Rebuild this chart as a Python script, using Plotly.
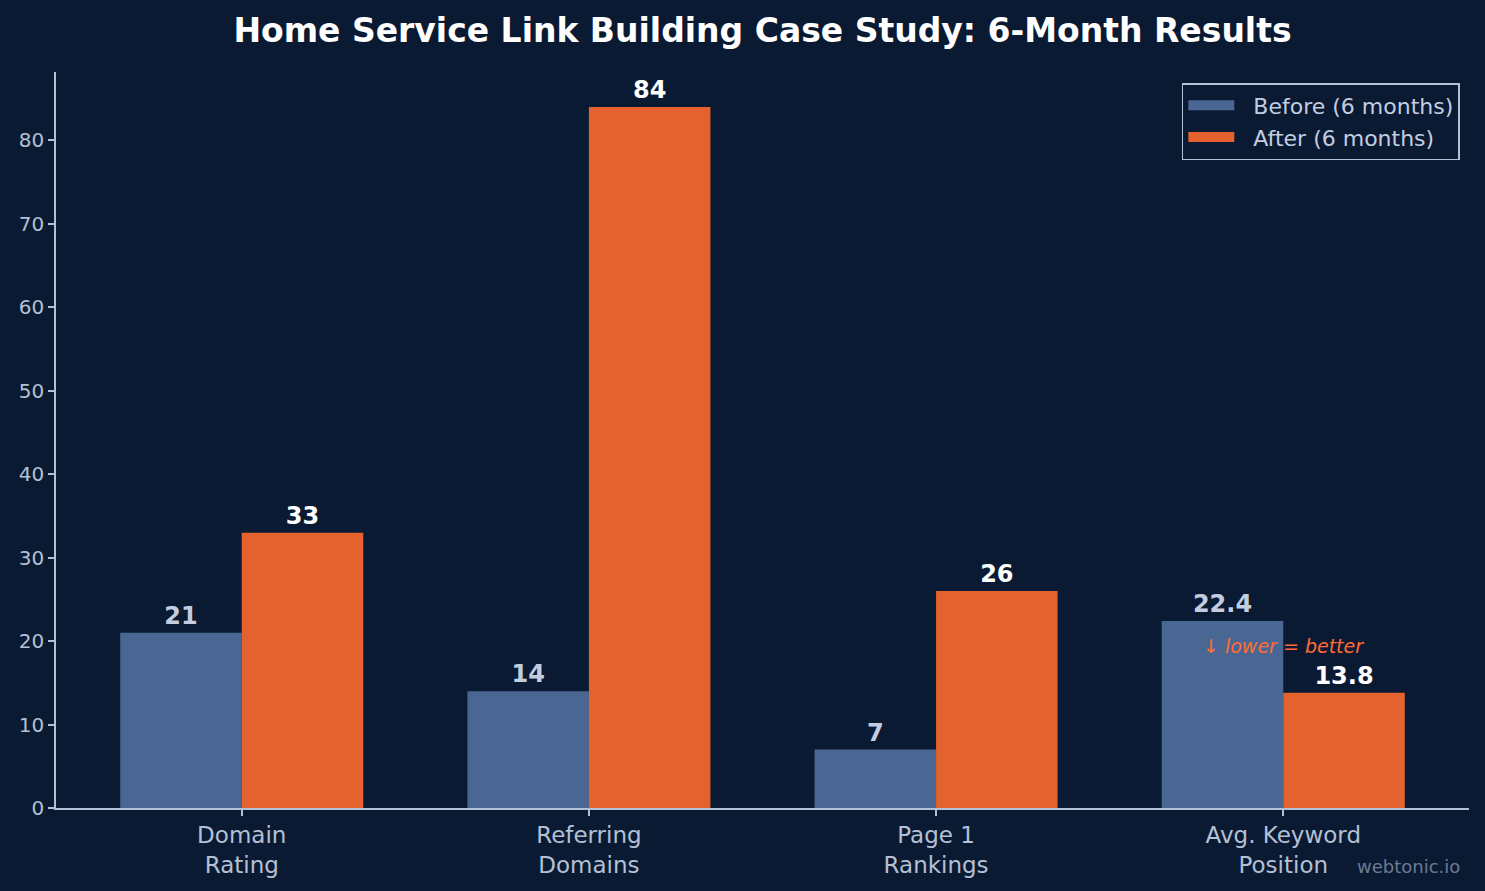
import plotly.graph_objects as go

categories = ["Domain<br>Rating", "Referring<br>Domains", "Page 1<br>Rankings", "Avg. Keyword<br>Position"]
before_vals = [21, 14, 7, 22.4]
after_vals = [33, 84, 26, 13.8]
before_labels = ["21", "14", "7", "22.4"]
after_labels = ["33", "84", "26", "13.8"]
y_ticks = [0, 10, 20, 30, 40, 50, 60, 70, 80]

BG = "#0b1a33"
AX = "#b4c0d3"
FONT = "DejaVu Sans"
C_BEFORE = "#4a6794"
C_AFTER = "#e4622d"

fig = go.Figure()
fig.add_trace(go.Bar(
    x=categories, y=before_vals, name="Before (6 months)", showlegend=False,
    marker=dict(color=C_BEFORE, line=dict(width=0)),
    text=before_labels, textposition="outside",
    textfont=dict(family=FONT, size=24, color="#c3cde0", weight="bold"),
    cliponaxis=False,
))
fig.add_trace(go.Bar(
    x=categories, y=after_vals, name="After (6 months)", showlegend=False,
    marker=dict(color=C_AFTER, line=dict(width=0)),
    text=after_labels, textposition="outside",
    textfont=dict(family=FONT, size=24, color="#ffffff", weight="bold"),
    cliponaxis=False,
))
# legend entries (wide patches)
fig.add_trace(go.Scatter(x=[None], y=[None], mode="lines", name="  Before (6 months)",
                         line=dict(color=C_BEFORE, width=16)))
fig.add_trace(go.Scatter(x=[None], y=[None], mode="lines", name="  After (6 months)",
                         line=dict(color=C_AFTER, width=16)))

fig.add_annotation(
    x=categories[3], y=19.4, text="<i>↓ lower = better</i>", showarrow=False,
    font=dict(family=FONT, size=19, color="#ff6b35"), xref="x", yref="y",
)
fig.add_annotation(
    x=1.0, y=-0.079, xref="paper", yref="paper", xanchor="right", yanchor="middle",
    xshift=-7,
    text="webtonic.io", showarrow=False,
    font=dict(family=FONT, size=18, color="#6b7a94"),
)

fig.update_layout(
    width=1485, height=891,
    paper_bgcolor=BG, plot_bgcolor=BG,
    font=dict(family=FONT, color=AX),
    title=dict(text="<b>Home Service Link Building Case Study: 6-Month Results</b>",
               x=0.5, xref="paper", xanchor="center", y=0.966, yanchor="middle",
               font=dict(family=FONT, size=33, color="#ffffff")),
    margin=dict(l=56, r=16, t=72, b=83),
    barmode="group", bargap=0.3, bargroupgap=0,
    legend=dict(
        x=0.9935, y=0.985, xanchor="right", yanchor="top",
        bgcolor=BG, bordercolor=AX, borderwidth=1.5,
        font=dict(family=FONT, size=22, color="#c3cde0"),
        itemwidth=46, tracegroupgap=0,
    ),
    showlegend=True,
)
fig.update_xaxes(
    type="category", range=[-0.535, 3.535],
    showline=True, linecolor=AX, linewidth=1.5,
    ticks="outside", ticklen=6, tickcolor=AX, tickwidth=1.5,
    tickfont=dict(family=FONT, size=23, color=AX),
    showgrid=False, zeroline=False,
)
fig.update_yaxes(
    range=[0, 88.2], tickvals=y_ticks,
    showline=True, linecolor=AX, linewidth=1.5,
    ticks="outside", ticklen=6, tickcolor=AX, tickwidth=1.5,
    tickfont=dict(family=FONT, size=20, color=AX),
    showgrid=False, zeroline=False,
)

fig.write_html("out.html")
